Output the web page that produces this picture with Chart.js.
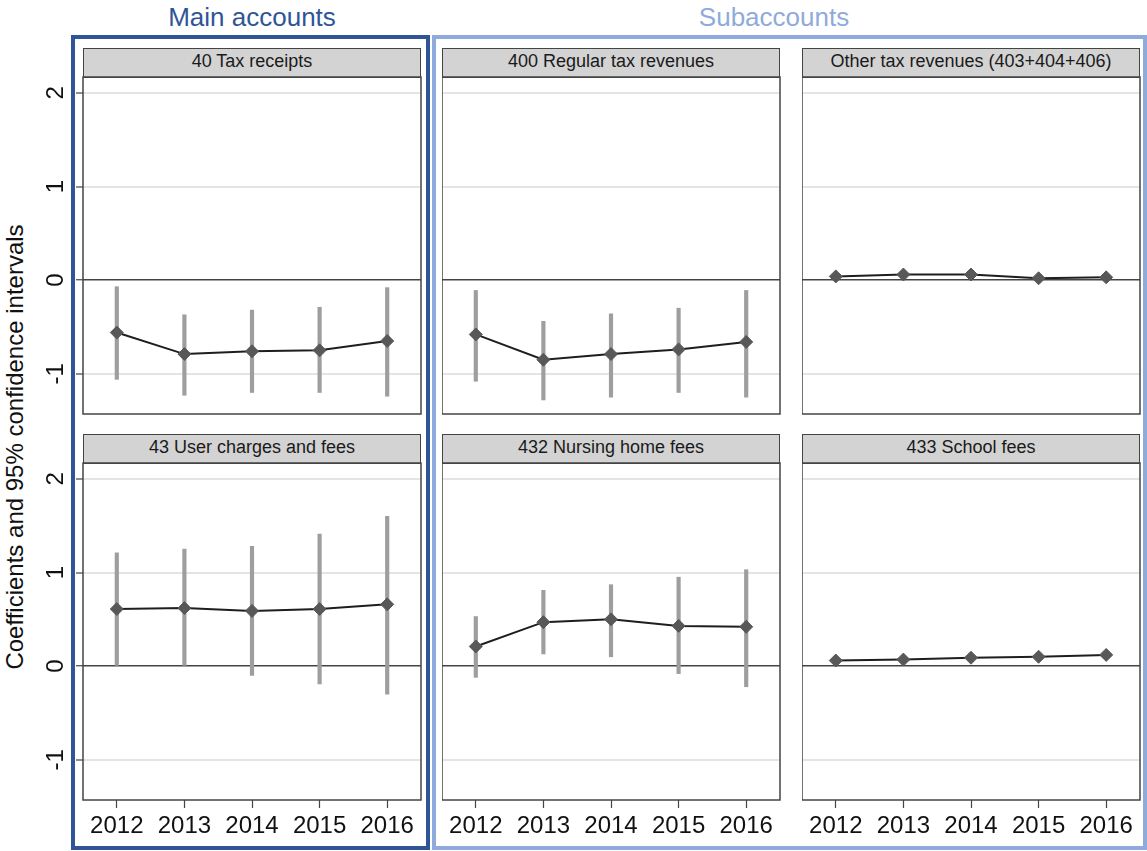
<!DOCTYPE html>
<html>
<head>
<meta charset="utf-8">
<title>Coefficients by year</title>
<script src="https://cdn.jsdelivr.net/npm/chart.js@4.4.1/dist/chart.umd.min.js"></script>
<style>
  body { margin: 0; background: #fff; font-family: "Liberation Sans", Arial, sans-serif; }
  #page { position: relative; width: 1147px; height: 851px; overflow: hidden; }
  .group-title { position: absolute; top: 4px; font-size: 26px; line-height: 26px; transform: translateX(-50%); white-space: nowrap; }
  .frame { position: absolute; box-sizing: border-box; border: 4.5px solid; }
  .strip { position: absolute; box-sizing: border-box; height: 30px; background: #d3d3d3; border: 1.5px solid #444;
           font-size: 18px; line-height: 25px; color: #1a1a1a; text-align: center; white-space: nowrap; }
  canvas { position: absolute; }
  #ytitle { position: absolute; left: 14.5px; top: 446.5px; font-size: 24px; color: #111; white-space: nowrap;
            transform: translate(-50%, -50%) rotate(-90deg); }
</style>
</head>
<body>
<div id="page">
  <div class="frame" style="left:71px; top:35px; width:359px; height:815px; border-color:#2f5597;"></div>
  <div class="frame" style="left:432px; top:35px; width:715px; height:815px; border-color:#8faadc;"></div>
  <div class="group-title" style="left:252px; color:#2f5597;">Main accounts</div>
  <div class="group-title" style="left:774px; color:#8faadc;">Subaccounts</div>
  <div id="ytitle">Coefficients and 95% confidence intervals</div>
</div>

<script>

// years and y ticks

const years = [2012, 2013, 2014, 2015, 2016];

const yTicks = [-1, 0, 1, 2];

// 40 Tax receipts

const taxReceiptsCoef = [-0.56, -0.79, -0.76, -0.75, -0.65];
const taxReceiptsLow  = [-1.06, -1.23, -1.20, -1.20, -1.24];
const taxReceiptsHigh = [-0.07, -0.37, -0.32, -0.29, -0.08];

// 400 Regular tax revenues

const regularTaxCoef = [-0.58, -0.85, -0.79, -0.74, -0.66];
const regularTaxLow  = [-1.08, -1.28, -1.25, -1.20, -1.25];
const regularTaxHigh = [-0.11, -0.44, -0.36, -0.30, -0.11];

// Other tax revenues (403+404+406)

const otherTaxCoef = [0.04, 0.06, 0.06, 0.02, 0.03];
const otherTaxLow  = [0.01, 0.03, 0.03, -0.01, 0.00];
const otherTaxHigh = [0.07, 0.09, 0.09, 0.05, 0.06];

// 43 User charges and fees

const userChargesCoef = [0.61, 0.62, 0.59, 0.61, 0.66];
const userChargesLow  = [0.00, 0.00, -0.10, -0.19, -0.30];
const userChargesHigh = [1.21, 1.25, 1.28, 1.41, 1.60];

// 432 Nursing home fees

const nursingCoef = [0.21, 0.47, 0.50, 0.43, 0.42];
const nursingLow  = [-0.12, 0.13, 0.10, -0.08, -0.22];
const nursingHigh = [0.53, 0.81, 0.87, 0.95, 1.03];

// 433 School fees

const schoolCoef = [0.06, 0.07, 0.09, 0.10, 0.12];
const schoolLow  = [0.03, 0.04, 0.06, 0.07, 0.09];
const schoolHigh = [0.09, 0.10, 0.12, 0.13, 0.15];

const panels = [
  { title: "40 Tax receipts", coef: taxReceiptsCoef, low: taxReceiptsLow, high: taxReceiptsHigh, row: 0, col: 0 },
  { title: "400 Regular tax revenues", coef: regularTaxCoef, low: regularTaxLow, high: regularTaxHigh, row: 0, col: 1 },
  { title: "Other tax revenues (403+404+406)", coef: otherTaxCoef, low: otherTaxLow, high: otherTaxHigh, row: 0, col: 2 },
  { title: "43 User charges and fees", coef: userChargesCoef, low: userChargesLow, high: userChargesHigh, row: 1, col: 0 },
  { title: "432 Nursing home fees", coef: nursingCoef, low: nursingLow, high: nursingHigh, row: 1, col: 1 },
  { title: "433 School fees", coef: schoolCoef, low: schoolLow, high: schoolHigh, row: 1, col: 2 }
];

// grid of plot areas

const colLeft = [83, 442, 802];
const rowTop = [77, 463];
const plotWidth = 338;
const plotHeight = 337;
const yAxisWidth = 63;
const xAxisHeight = 48;

const plotBorder = {
  id: "plotBorder",
  afterDatasetsDraw(chart) {
    const { ctx, chartArea: a } = chart;
    ctx.save();
    ctx.strokeStyle = "#444";
    ctx.lineWidth = 1.5;
    ctx.strokeRect(a.left, a.top, a.right - a.left, a.bottom - a.top);
    ctx.restore();
  }
};

function createPanel(p) {

  const page = document.getElementById("page");
  const firstCol = p.col === 0;
  const bottomRow = p.row === 1;

  // title strip

  const strip = document.createElement("div");
  strip.className = "strip";
  strip.style.left = colLeft[p.col] + "px";
  strip.style.top = (rowTop[p.row] - 29) + "px";
  strip.style.width = plotWidth + "px";
  strip.textContent = p.title;
  page.appendChild(strip);

  // canvas

  const leftW = firstCol ? yAxisWidth : 0;
  const canvas = document.createElement("canvas");
  const w = leftW + plotWidth + 2;
  const h = 2 + plotHeight + (bottomRow ? xAxisHeight : 2);
  canvas.width = w;
  canvas.height = h;
  canvas.style.left = (colLeft[p.col] - leftW) + "px";
  canvas.style.top = (rowTop[p.row] - 2) + "px";
  canvas.style.width = w + "px";
  canvas.style.height = h + "px";
  page.appendChild(canvas);

  const ci = p.low.map((lo, i) => [lo, p.high[i]]);

  new Chart(canvas, {
    type: "line",
    data: {
      labels: years,
      datasets: [
        {
          type: "line",
          data: p.coef,
          borderColor: "#1e1e1e",
          borderWidth: 2,
          tension: 0,
          pointStyle: "rectRot",
          pointRadius: 6.5,
          pointBackgroundColor: "#585858",
          pointBorderColor: "#585858",
          pointBorderWidth: 1
        },
        {
          type: "bar",
          data: ci,
          backgroundColor: "#9e9e9e",
          barThickness: 3.5
        }
      ]
    },
    options: {
      responsive: false,
      animation: false,
      layout: { autoPadding: false, padding: { top: 2, right: 2, bottom: bottomRow ? 0 : 2, left: 0 } },
      plugins: { legend: { display: false }, tooltip: { enabled: false } },
      scales: {
        x: {
          type: "category",
          offset: true,
          display: bottomRow,
          border: { display: false },
          grid: { offset: false, drawOnChartArea: false, drawTicks: true, tickLength: 8, tickColor: "#444", tickWidth: 1.2 },
          ticks: { font: { family: "Liberation Sans", size: 24 }, color: "#111", padding: 4, maxRotation: 0, autoSkip: false },
          afterFit: s => { s.height = bottomRow ? xAxisHeight : 0; s.paddingLeft = 0; s.paddingRight = 0; }
        },
        y: {
          min: -1.43,
          max: 2.17,
          border: { display: false },
          afterBuildTicks: s => { s.ticks = yTicks.map(v => ({ value: v })); },
          grid: {
            color: c => c.tick.value === 0 ? "#444" : "#e4e4e4",
            lineWidth: c => c.tick.value === 0 ? 1.5 : 2,
            drawTicks: firstCol,
            tickLength: 7,
            tickColor: "#444",
            tickWidth: 1.2
          },
          ticks: {
            display: firstCol,
            font: { family: "Liberation Sans", size: 24 },
            color: "#111",
            minRotation: 90,
            maxRotation: 90,
            crossAlign: "center",
            padding: 9,
            callback: v => String(v)
          },
          afterFit: s => { s.width = leftW; s.paddingTop = 0; s.paddingBottom = 0; }
        }
      }
    },
    plugins: [plotBorder]
  });

}

panels.forEach(createPanel);

</script>
</body>
</html>
